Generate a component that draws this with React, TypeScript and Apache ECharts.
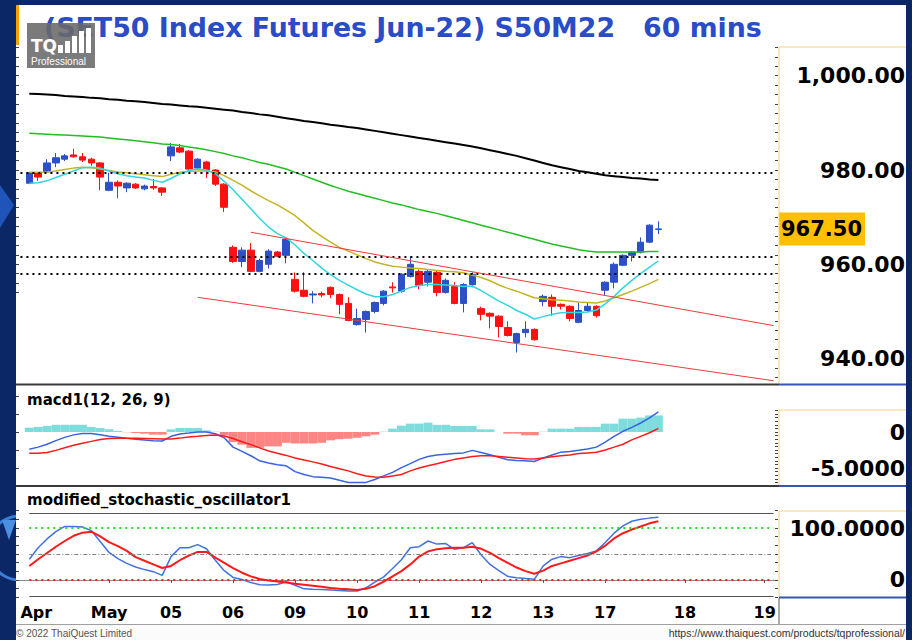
import React, { useEffect, useRef } from 'react';
import * as echarts from 'echarts';

const FONT = '"DejaVu Sans", Verdana, sans-serif';

// ---------- x slots / tick labels ----------
const SLOT_COUNT = 86;
const FIRST_SLOT = 1;
const xTickLabels = ['Apr', 'May', '05', '06', '09', '10', '11', '12', '13', '17', '18', '19'];
const xTickSlots = [0, 10, 17, 24, 31, 38, 45, 52, 59, 66, 75, 84];

// ---------- candles (60 mins) ----------
const opens = [
  977.2, 979.4, 979.6, 981.5, 982.3, 983.2, 982.8, 982.3, 981.5, 975.7,
  977.4, 976.2, 977.0, 976.0, 976.5, 976.2, 983.0, 984.7, 984.0, 980.4,
  981.7, 980.0, 977.0, 963.6, 960.6, 963.0, 958.5, 960.0, 962.6, 961.9,
  956.8, 954.5, 953.5, 953.8, 955.1, 953.6, 951.7, 947.2, 948.3, 950.0,
  951.7, 955.2, 954.3, 957.4, 958.5, 956.2, 958.3, 954.0, 955.3, 951.7,
  955.7, 950.6, 949.6, 949.0, 946.6, 943.4, 945.5, 946.2, 952.1, 953.0,
  951.5, 951.1, 947.7, 950.2, 951.1, 954.5, 956.2, 959.8, 961.9, 962.6,
  964.7, 967.4,
];
const closes = [
  979.4, 978.5, 981.5, 982.6, 983.0, 982.8, 982.1, 981.5, 978.5, 977.4,
  976.6, 977.2, 976.2, 976.6, 976.2, 975.3, 984.9, 983.8, 980.2, 982.3,
  980.0, 977.0, 972.1, 960.6, 963.0, 958.5, 960.8, 962.8, 961.7, 965.3,
  954.3, 953.2, 953.7, 953.5, 953.6, 951.5, 948.1, 948.5, 950.0, 951.9,
  954.3, 955.0, 957.9, 960.0, 955.5, 958.5, 954.0, 956.6, 951.7, 955.7,
  957.9, 949.4, 949.0, 946.8, 944.9, 945.3, 946.2, 944.0, 953.2, 951.1,
  951.1, 948.5, 950.2, 951.1, 949.1, 956.2, 960.0, 961.9, 962.6, 964.7,
  968.3, 967.5,
];
const lows = [
  977.0, 977.7, 979.4, 980.6, 981.9, 982.6, 981.7, 980.9, 975.7, 975.5,
  974.0, 975.3, 976.0, 975.7, 975.8, 974.5, 981.9, 983.6, 979.6, 980.2,
  978.3, 976.6, 971.1, 960.3, 959.4, 958.3, 958.3, 959.1, 961.5, 960.2,
  954.0, 953.0, 951.7, 953.0, 952.8, 949.4, 947.9, 947.0, 945.5, 949.6,
  951.3, 954.0, 954.0, 957.2, 954.7, 955.3, 953.2, 953.8, 951.5, 949.8,
  955.1, 948.1, 946.4, 944.5, 944.7, 941.3, 944.5, 943.8, 951.1, 949.1,
  950.4, 947.9, 947.5, 949.8, 948.7, 953.4, 954.9, 959.6, 960.6, 962.3,
  964.5, 966.4,
];
const highs = [
  979.6, 979.5, 982.3, 983.6, 983.4, 984.5, 983.6, 982.6, 981.7, 979.4,
  977.8, 977.4, 977.2, 976.9, 978.1, 976.4, 985.7, 985.5, 984.2, 982.5,
  981.9, 980.2, 977.2, 964.0, 963.6, 964.5, 961.2, 963.2, 962.8, 965.5,
  958.3, 958.3, 954.3, 954.2, 955.3, 953.8, 953.0, 950.6, 950.2, 952.1,
  954.5, 956.2, 958.1, 961.7, 958.9, 958.9, 958.6, 957.0, 956.2, 956.0,
  958.3, 951.0, 949.8, 949.2, 947.9, 945.5, 947.9, 946.4, 953.6, 953.6,
  951.7, 951.3, 951.9, 951.9, 951.3, 956.4, 960.4, 962.1, 962.8, 965.7,
  968.5, 969.1,
];

// ---------- moving averages ----------
const maCyan = [
  977.2, 977.3, 977.7, 978.4, 979.1, 979.8, 980.5, 980.6, 980.4, 979.8,
  979.2, 978.8, 978.5, 978.3, 977.8, 977.4, 978.2, 979.2, 979.9, 980.2,
  980.0, 979.2, 977.6, 975.8, 973.8, 971.8, 969.7, 967.9, 966.5, 965.6,
  964.1, 962.3, 960.8, 959.2, 957.8, 956.6, 955.6, 954.6, 953.7, 953.1,
  953.1, 953.6, 954.3, 955.1, 955.5, 955.7, 955.7, 955.6, 955.5, 955.3,
  955.4, 954.4, 953.3, 952.2, 951.3, 950.2, 949.4, 948.4, 948.9, 949.4,
  949.7, 949.8, 949.8, 949.9, 950.3, 951.6, 953.2, 955.0, 956.6, 958.0,
  959.4, 960.7,
];
const maOlive = [
  979.5, 979.5, 979.6, 979.8, 980.1, 980.4, 980.6, 980.5, 980.2, 979.9,
  979.6, 979.4, 979.2, 979.0, 978.8, 978.6, 979.1, 979.5, 979.7, 979.8,
  979.8, 979.6, 978.8, 977.8, 976.8, 975.6, 974.5, 973.5, 972.6, 971.5,
  970.3, 968.8, 967.2, 965.9, 964.7, 963.6, 962.8, 962.0, 961.2, 960.5,
  960.0, 959.6, 959.4, 959.2, 959.1, 958.9, 958.7, 958.5, 958.4, 958.2,
  957.7, 957.2, 956.5, 955.6, 954.9, 954.3, 953.6, 952.9, 952.7, 952.5,
  952.4, 952.2, 952.0, 951.9, 951.8, 952.2, 952.9, 953.6, 954.3, 955.1,
  955.9, 956.8,
];
const maGreen = [
  987.8, 987.7, 987.6, 987.5, 987.4, 987.3, 987.2, 987.1, 987.0, 986.8,
  986.6, 986.4, 986.2, 986.0, 985.8, 985.5, 985.4, 985.2, 984.9, 984.6,
  984.3, 983.9, 983.5, 983.0, 982.6, 982.1, 981.6, 981.2, 980.7, 980.2,
  979.5, 978.8, 978.1, 977.4, 976.7, 976.1, 975.5, 975.0, 974.5, 974.0,
  973.5, 973.0, 972.6, 972.1, 971.6, 971.2, 970.8, 970.3, 969.8, 969.3,
  968.8, 968.3, 967.8, 967.3, 966.8, 966.3, 965.8, 965.3, 964.8, 964.3,
  963.9, 963.5, 963.1, 962.8, 962.6, 962.6, 962.6, 962.6, 962.6, 962.6,
  962.7, 962.7,
];
const maBlack = [
  996.2, 996.1, 996.0, 995.9, 995.7, 995.6, 995.5, 995.3, 995.2, 995.0,
  994.9, 994.7, 994.6, 994.4, 994.2, 994.0, 993.9, 993.7, 993.5, 993.4,
  993.2, 993.0, 992.8, 992.6, 992.3, 992.1, 991.8, 991.6, 991.3, 991.0,
  990.7, 990.4, 990.2, 989.9, 989.6, 989.4, 989.1, 988.9, 988.6, 988.3,
  988.0, 987.7, 987.4, 987.1, 986.8, 986.5, 986.2, 985.9, 985.6, 985.3,
  985.0, 984.6, 984.2, 983.8, 983.4, 983.0, 982.5, 982.0, 981.5, 981.0,
  980.6, 980.2, 979.8, 979.5, 979.2, 978.9, 978.7, 978.5, 978.3, 978.2,
  978.0, 977.9,
];

// ---------- MACD(12, 26, 9) ----------
const macdLine = [
  -2.4, -2.1, -1.7, -1.2, -0.75, -0.4, -0.22, -0.2, -0.38, -0.6,
  -0.74, -0.88, -1.0, -1.1, -1.2, -1.25, -0.6, -0.28, -0.15, 0.0,
  0.0, -0.25, -0.8, -2.1, -2.7, -3.3, -4.0, -4.3, -4.55, -4.7,
  -5.5, -5.9, -6.2, -6.3, -6.4, -6.7, -7.0, -7.0, -7.0, -6.6,
  -6.1, -5.6, -4.95, -4.4, -3.8, -3.4, -3.2, -3.1, -3.0, -2.9,
  -2.55, -2.85, -3.15, -3.5, -3.85, -3.95, -4.0, -4.1, -3.6, -3.2,
  -2.8, -2.7, -2.55, -2.35, -2.1, -1.4, -0.6, 0.1, 0.65, 1.25,
  1.95, 2.8,
];
const signalLine = [
  -2.96, -2.95, -2.85, -2.55, -2.2, -1.85, -1.55, -1.3, -1.05, -0.9,
  -0.88, -0.88, -0.88, -0.9, -0.93, -0.96, -0.97, -0.85, -0.7, -0.6,
  -0.48, -0.42, -0.55, -0.9, -1.35, -1.75, -2.2, -2.64, -2.95, -3.25,
  -3.6, -3.9, -4.15, -4.45, -4.8, -5.1, -5.4, -5.8, -6.1, -6.25,
  -6.3, -6.1, -5.9, -5.4, -5.0, -4.7, -4.4, -4.1, -3.8, -3.6,
  -3.4, -3.3, -3.3, -3.4, -3.5, -3.6, -3.7, -3.75, -3.6, -3.45,
  -3.3, -3.2, -3.0, -2.9, -2.8, -2.5, -2.1, -1.7, -1.1, -0.6,
  -0.1, 0.5,
];
const macdHist = [
  0.6, 0.7, 0.83, 1.0, 1.0, 1.0, 1.0, 0.7, 0.55, 0.37,
  0.15, -0.05, -0.14, -0.23, -0.37, -0.37, 0.37, 0.55, 0.55, 0.55,
  0.23, 0.05, -0.46, -1.4, -1.76, -2.2, -2.2, -2.0, -2.0, -1.5,
  -1.6, -1.6, -1.6, -1.5, -1.16, -1.0, -0.93, -0.8, -0.6, -0.37,
  0.05, 0.46, 0.88, 1.16, 1.16, 1.3, 1.0, 1.0, 0.83, 0.83,
  0.83, 0.37, 0.37, 0.0, -0.23, -0.23, -0.46, -0.46, 0.05, 0.46,
  0.46, 0.46, 0.7, 0.7, 0.7, 1.16, 1.16, 1.85, 1.85, 2.0,
  2.3, 2.3,
];

// ---------- modified stochastic oscillator ----------
const stochK = [
  40, 62, 79, 93, 103, 103, 102, 95, 74, 53,
  41, 32, 25, 20, 16, 9, 45, 62, 62, 68,
  60, 38, 18, 5, 1, -5, -9, -9.6, -8.5, -3.5,
  -10, -17, -18, -18.5, -19, -20, -21, -21, -15, -4,
  6, 22, 39, 62, 64, 75, 69, 70, 59, 62,
  72, 48, 30, 18, 7, 4.5, 3, 1.3, 27, 40,
  45, 43, 47, 51, 56, 72, 90, 104, 113, 117,
  119, 120.5,
];
const stochD = [
  27, 40, 52, 64, 75, 85, 91, 93, 84, 73,
  65, 56, 44, 37, 30, 23, 27, 38, 47, 54,
  54, 43, 33, 23, 14, 7, 2, -1, -3, -5,
  -7, -9, -11, -13, -15.5, -17, -18, -19, -17, -12,
  -3, 7, 17, 30, 45, 55, 59, 61, 62, 62,
  64, 60, 52, 42, 33, 24, 17, 12, 18, 27,
  32, 37, 42, 47, 55, 66, 80, 90, 97, 103,
  109, 113,
];

// ---------- levels / annotations ----------
const priceLevels = [979.5, 961.5, 958.1];
const channelUpper = [[26, 966.8], [85, 947.0]];
const channelLower = [[20, 953.0], [85, 935.3]];
const lastPrice = 967.5;
const priceLabels = [940, 960, 980, 1000];
const macdLabels = [-5, 0];
const stochLabels = [0, 100];
const stochOverbought = 100;
const stochMid = 50;
const stochOversold = 0;
const stochFrameTop = 128.85;
const stochFrameBottom = -30.77;

const PRICE_MIN = 934.61;
const PRICE_MAX = 1006.09;

function steps(a: number, b: number, s: number) {
  const out: number[] = [];
  for (let v = a; v <= b + 1e-9; v += s) out.push(+v.toFixed(4));
  return out;
}

function buildOption() {
  const slots = Array.from({ length: SLOT_COUNT }, (_, i) => String(i));
  const pairs = (arr: number[]) => arr.map((v, j) => [j + FIRST_SLOT, v]);
  const candleData = opens.map((o, j) => [j + FIRST_SLOT, o, closes[j], lows[j], highs[j]]);
  const lastSlot = SLOT_COUNT - 1;

  const hiddenX = (gi: number) => ({
    type: 'category', gridIndex: gi, data: slots, boundaryGap: true,
    axisLine: { show: false }, axisTick: { show: false }, axisLabel: { show: false }, splitLine: { show: false },
  });

  const rightLabel = {
    align: 'right', margin: 127, fontSize: 22, fontWeight: 'bold', fontFamily: FONT, color: '#000',
  };
  const tickStyle = { color: '#444', width: 1 };
  const stochTickVals = steps(-2, 8, 1).map((k) => +(k * 100 / 6).toFixed(3));

  const hline = (v: number, style: any, from = 1, to = 85) => [
    { coord: [from, v], lineStyle: style },
    { coord: [to, v] },
  ];

  const graphic: any[] = [];
  const rect = (x: number, y: number, w: number, h: number, fill: string, z = -10) =>
    graphic.push({ type: 'rect', z, silent: true, shape: { x, y, width: w, height: h }, style: { fill } });
  const seg = (x1: number, y1: number, x2: number, y2: number, stroke: string, lw = 1, z = 50) =>
    graphic.push({ type: 'line', z, silent: true, shape: { x1, y1, x2, y2 }, style: { stroke, lineWidth: lw } });
  const txt = (x: number, y: number, text: string, font: string, fill: string, align = 'left', z = 60) =>
    graphic.push({ type: 'text', z, silent: true, x, y, style: { text, font, fill, align, verticalAlign: 'middle' } });

  // backgrounds
  rect(0, 0, 912, 640, '#0b2766', -100);
  // left desktop decorations
  graphic.push({ type: 'polygon', z: -98, silent: true, shape: { points: [[0, 185], [14, 205], [0, 228]] }, style: { fill: '#1f55b8' } });
  graphic.push({ type: 'circle', z: -98, silent: true, shape: { cx: 20, cy: 548, r: 32 }, style: { fill: 'none', stroke: '#3c7dd6', lineWidth: 3 } });
  graphic.push({ type: 'polygon', z: -98, silent: true, shape: { points: [[2, 520], [16, 520], [9, 540]] }, style: { fill: '#4a8fe0' } });
  // white chart area over the decorations
  rect(16, 5, 890, 620, '#ffffff', -96);
  rect(16, 625, 890, 15, '#fbfbfb', -96);
  rect(16, 5, 3, 40, '#f5a300', -95);

  // title + logo
  txt(44, 27, '(SET50 Index Futures Jun-22) S50M22   60 mins', 'bold 26.8px ' + FONT, '#2a4cc6', 'left', 70);
  rect(27, 23, 68, 45, 'rgba(105,105,105,0.88)', 80);
  txt(31, 46, 'TQ', 'bold 17px ' + FONT, '#ffffff', 'left', 81);
  [[58, 45], [65, 41], [72, 36], [79, 31], [86, 28]].forEach(([x, y]) => rect(x, y, 5, 53 - y, '#ffffff', 81));
  txt(31, 61, 'Professional', '10px "Liberation Sans", Arial, sans-serif', '#ffffff', 'left', 81);

  // panel titles
  txt(27, 400, 'macd1(12, 26, 9)', 'bold 15px ' + FONT, '#000000');
  txt(27, 500, 'modified_stochastic_oscillator1', 'bold 15px ' + FONT, '#000000');

  // axis boxes
  const yellow = '#f2d27a';
  const blue = '#3556b0';
  seg(779, 47, 906, 47, yellow); seg(779, 47, 779, 384, yellow);
  seg(779, 410, 906, 410, yellow); seg(779, 410, 779, 486, yellow);
  seg(779, 511, 906, 511, yellow); seg(779, 511, 779, 597, yellow);
  seg(779, 384.5, 906, 384.5, blue, 2); seg(779, 486, 906, 486, blue, 2); seg(779, 597.5, 906, 597.5, blue, 2);
  // separators
  seg(16, 384.5, 779, 384.5, '#3a3a3a', 2);
  seg(16, 486, 779, 486, '#3a3a3a', 2);
  seg(779, 598, 779, 625, '#555555', 1);
  seg(16, 624.5, 906, 624.5, '#a0a0a0', 1);
  // footer
  txt(16, 633, '\u00a9 2022 ThaiQuest Limited', '10px "Liberation Sans", Arial, sans-serif', '#555555', 'left');
  txt(905, 633, 'https://www.thaiquest.com/products/tqprofessional/', '10.5px "Liberation Sans", Arial, sans-serif', '#333333', 'right');

  const option: any = {
    animation: false,
    backgroundColor: 'transparent',
    grid: [
      { left: 16, right: 134, top: 47, height: 337 },
      { left: 16, right: 134, top: 387, height: 99 },
      { left: 16, right: 134, top: 487, height: 112 },
    ],
    xAxis: [
      hiddenX(0),
      hiddenX(1),
      {
        type: 'category', gridIndex: 2, data: slots, boundaryGap: true,
        axisLine: { show: true, lineStyle: { color: '#8c8c8c', width: 1 } },
        axisTick: {
          show: true, alignWithLabel: true, length: 3,
          interval: (i: number) => xTickSlots.indexOf(i) > 0,
          lineStyle: { color: '#555' },
        },
        axisLabel: {
          show: true,
          interval: (i: number) => xTickSlots.indexOf(i) >= 0,
          formatter: (v: string) => {
            const k = xTickSlots.indexOf(Number(v));
            return k >= 0 ? xTickLabels[k] : '';
          },
          alignMinLabel: 'left',
          fontFamily: FONT, fontWeight: 'bold', fontSize: 16, color: '#000', margin: 5,
        },
        splitLine: { show: false },
      },
    ],
    yAxis: [
      {
        type: 'value', gridIndex: 0, position: 'right', min: PRICE_MIN, max: PRICE_MAX, scale: true,
        axisLine: { show: false }, splitLine: { show: false },
        axisTick: { show: true, inside: true, length: 3, customValues: steps(936, 1006, 2), lineStyle: tickStyle },
        axisLabel: {
          ...rightLabel, customValues: priceLabels,
          formatter: (v: number) => Number(v).toLocaleString('en-US', { minimumFractionDigits: 2, maximumFractionDigits: 2 }),
        },
      },
      {
        type: 'value', gridIndex: 0, position: 'left', min: PRICE_MIN, max: PRICE_MAX, scale: true,
        axisLine: { show: false }, splitLine: { show: false }, axisLabel: { show: false },
        axisTick: { show: true, inside: true, length: 3, customValues: steps(954, 1006, 2), lineStyle: tickStyle },
      },
      {
        type: 'value', gridIndex: 1, position: 'right', min: -7.5, max: 6.25,
        axisLine: { show: false }, splitLine: { show: false },
        axisTick: { show: true, inside: true, length: 3, customValues: steps(-7.5, 3, 0.5), lineStyle: tickStyle },
        axisLabel: {
          ...rightLabel, customValues: macdLabels,
          formatter: (v: number) => (Number(v) === 0 ? '0' : Number(v).toFixed(4)),
        },
      },
      {
        type: 'value', gridIndex: 1, position: 'left', min: -7.5, max: 6.25,
        axisLine: { show: false }, splitLine: { show: false }, axisLabel: { show: false },
        axisTick: { show: true, inside: true, length: 3, customValues: steps(-7.5, 5, 2.5), lineStyle: tickStyle },
      },
      {
        type: 'value', gridIndex: 2, position: 'right', min: -36.54, max: 178.85,
        axisLine: { show: false }, splitLine: { show: false },
        axisTick: { show: true, inside: true, length: 3, customValues: stochTickVals, lineStyle: tickStyle },
        axisLabel: {
          ...rightLabel, customValues: stochLabels,
          formatter: (v: number) => (Number(v) === 0 ? '0' : Number(v).toFixed(4)),
        },
      },
      {
        type: 'value', gridIndex: 2, position: 'left', min: -36.54, max: 178.85,
        axisLine: { show: false }, splitLine: { show: false }, axisLabel: { show: false },
        axisTick: { show: true, inside: true, length: 3, customValues: stochTickVals, lineStyle: tickStyle },
      },
    ],
    series: [
      {
        type: 'candlestick', xAxisIndex: 0, yAxisIndex: 0, data: candleData,
        encode: { x: 0, y: [1, 2, 3, 4] },
        barWidth: 7,
        itemStyle: { color: '#2c50c6', color0: '#ff1010', borderColor: '#2c50c6', borderColor0: '#ff1010', borderWidth: 1 },
        markLine: {
          silent: true, symbol: ['none', 'none'], animation: false,
          label: { show: false },
          data: [
            ...priceLevels.map((v) => hline(v, { color: '#000', width: 2, type: [2, 4] }, 0, lastSlot)),
            [{ coord: channelUpper[0], lineStyle: { color: '#f03a3a', width: 1, type: 'solid' } }, { coord: channelUpper[1] }],
            [{ coord: channelLower[0], lineStyle: { color: '#f03a3a', width: 1, type: 'solid' } }, { coord: channelLower[1] }],
            {
              yAxis: lastPrice,
              lineStyle: { color: 'rgba(0,0,0,0)', width: 0 },
              label: {
                show: true, position: 'end', distance: 1,
                formatter: () => lastPrice.toFixed(2),
                backgroundColor: '#ffc000', color: '#000', fontWeight: 'bold', fontSize: 21, fontFamily: FONT,
                padding: [6, 3, 6, 2],
              },
            },
          ],
        },
      },
      { type: 'line', xAxisIndex: 0, yAxisIndex: 0, data: pairs(maBlack), showSymbol: false, lineStyle: { color: '#000000', width: 2 }, z: 3 },
      { type: 'line', xAxisIndex: 0, yAxisIndex: 0, data: pairs(maGreen), showSymbol: false, lineStyle: { color: '#22bf22', width: 1.5 }, z: 3 },
      { type: 'line', xAxisIndex: 0, yAxisIndex: 0, data: pairs(maOlive), showSymbol: false, lineStyle: { color: '#c4b425', width: 1.5 }, z: 3 },
      { type: 'line', xAxisIndex: 0, yAxisIndex: 0, data: pairs(maCyan), showSymbol: false, lineStyle: { color: '#30d6e2', width: 1.5 }, z: 3 },
      {
        type: 'bar', xAxisIndex: 1, yAxisIndex: 2, barWidth: '100%', barCategoryGap: '0%',
        data: macdHist.map((v, j) => ({ value: [j + FIRST_SLOT, v], itemStyle: { color: v >= 0 ? '#7fdcdc' : '#ff8585' } })),
      },
      { type: 'line', xAxisIndex: 1, yAxisIndex: 2, data: pairs(macdLine), showSymbol: false, lineStyle: { color: '#3a62e0', width: 1.5 }, z: 3 },
      { type: 'line', xAxisIndex: 1, yAxisIndex: 2, data: pairs(signalLine), showSymbol: false, lineStyle: { color: '#ff1a1a', width: 1.5 }, z: 3 },
      {
        type: 'line', xAxisIndex: 2, yAxisIndex: 4, data: pairs(stochK), showSymbol: false, lineStyle: { color: '#4272e0', width: 1.5 }, z: 3,
        markLine: {
          silent: true, symbol: ['none', 'none'], animation: false, label: { show: false },
          data: [
            hline(stochFrameTop, { color: '#555', width: 1, type: 'solid' }),
            hline(stochFrameBottom, { color: '#555', width: 1, type: 'solid' }),
            hline(stochOverbought, { color: '#22e022', width: 2, type: [2, 4] }),
            hline(stochMid, { color: '#808080', width: 1, type: [4, 2, 1, 2] }),
            hline(stochOversold, { color: '#ff2020', width: 2, type: [2, 4] }),
          ],
        },
      },
      { type: 'line', xAxisIndex: 2, yAxisIndex: 4, data: pairs(stochD), showSymbol: false, lineStyle: { color: '#ff1a1a', width: 2 }, z: 4 },
    ],
    graphic,
  };
  return option;
}

export default function App() {
  const ref = useRef<HTMLDivElement>(null);
  useEffect(() => {
    if (!ref.current) return;
    const chart = echarts.init(ref.current, undefined, { renderer: 'svg' });
    chart.setOption(buildOption());
    return () => chart.dispose();
  }, []);
  return <div ref={ref} style={{ position: 'absolute', left: 0, top: 0, width: 912, height: 640 }} />;
}
